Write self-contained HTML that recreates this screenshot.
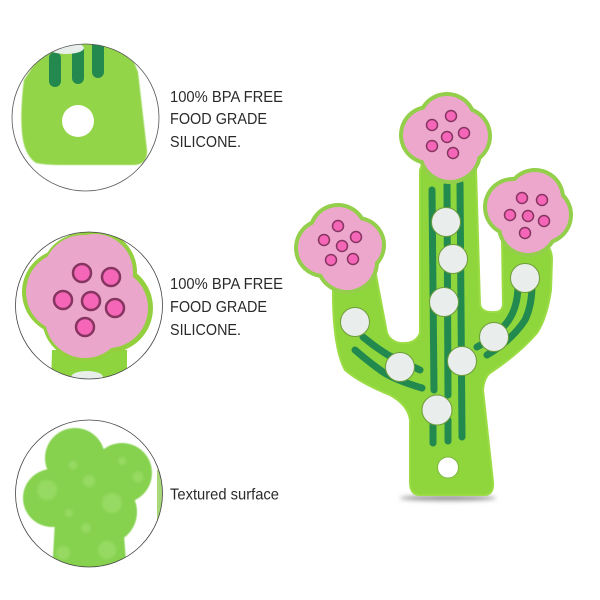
<!DOCTYPE html>
<html><head><meta charset="utf-8"><style>
html,body{margin:0;padding:0;background:#fff;width:600px;height:600px;overflow:hidden}
svg{display:block}
text{font-family:"Liberation Sans",sans-serif;font-size:16px;fill:#2a2a2a}
</style></head><body>
<svg width="600" height="600" viewBox="0 0 600 600" xmlns="http://www.w3.org/2000/svg">
<defs>
<clipPath id="c1"><circle cx="85.5" cy="117.5" r="73.5"/></clipPath>
<clipPath id="c2"><circle cx="89" cy="305.5" r="73.5"/></clipPath>
<clipPath id="c3"><circle cx="89" cy="493.5" r="73.5"/></clipPath>
<filter id="b1" x="-30%" y="-200%" width="160%" height="500%"><feGaussianBlur stdDeviation="2.5"/></filter>
<filter id="b2" x="-30%" y="-30%" width="160%" height="160%"><feGaussianBlur stdDeviation="1.2"/></filter>
<filter id="b3" x="-10%" y="-10%" width="120%" height="120%"><feGaussianBlur stdDeviation="0.6"/></filter>
</defs>

<!-- inset 1 -->
<g clip-path="url(#c1)">
<path d="M50 40 L24 80 Q20 110 22 133 Q24 155 36 163 Q45 165 60 165 L133 165 Q148 165 147 150 L138 72 L125 40 Z" fill="#93d54a" filter="url(#b3)"/>
<g stroke="#23894f" stroke-width="12" stroke-linecap="round" fill="none">
<path d="M55 58V81"/><path d="M78 50V78"/><path d="M98 40V72"/>
</g>
<ellipse cx="66" cy="48" rx="18" ry="6" fill="#e8eeea"/>
<circle cx="78" cy="121" r="16" fill="#fff"/>
</g>
<circle cx="85.5" cy="117.5" r="73.5" fill="none" stroke="#555" stroke-width="0.8"/>

<!-- inset 2 -->
<g clip-path="url(#c2)">
<path d="M52 350 L51 385 H127 L127 350 Z" fill="#8ed43f"/>
<ellipse cx="87" cy="377" rx="16" ry="6" fill="#e8eeea"/>
<g fill="#93cf3e">
<circle cx="83" cy="275" r="42"/><circle cx="95" cy="272" r="42"/><circle cx="65" cy="292" r="43"/>
<circle cx="108" cy="308" r="45"/><circle cx="85" cy="318" r="43"/>
</g>
<g fill="#eba6cb">
<circle cx="83" cy="275" r="40"/><circle cx="95" cy="272" r="38"/><circle cx="66" cy="292" r="40"/>
<circle cx="108" cy="308" r="40"/><circle cx="85" cy="318" r="40"/>
</g>
<g fill="#f566b8" stroke="#85355f" stroke-width="2.5">
<circle cx="82" cy="273" r="9"/><circle cx="111" cy="277" r="9"/><circle cx="63" cy="300" r="9"/>
<circle cx="91" cy="301" r="9"/><circle cx="115" cy="308" r="9"/><circle cx="85" cy="327" r="9"/>
</g>
</g>
<circle cx="89" cy="305.5" r="73.5" fill="none" stroke="#444" stroke-width="0.8"/>

<!-- inset 3 -->
<g clip-path="url(#c3)">
<rect x="157" y="470" width="6" height="60" fill="#a8d878"/>
<g fill="#86d24f" filter="url(#b3)">
<circle cx="75" cy="458" r="30"/><circle cx="122" cy="473" r="30"/><circle cx="52" cy="498" r="29"/>
<circle cx="105" cy="512" r="32"/><circle cx="90" cy="490" r="38"/><circle cx="78" cy="512" r="24"/>
<path d="M55 520 L52 575 H127 L124 535 Z"/>
</g>
<g fill="#9bdc68" opacity=".8" filter="url(#b2)">
<circle cx="47" cy="490" r="10"/><circle cx="112" cy="503" r="10"/><circle cx="89" cy="481" r="6"/>
<circle cx="73" cy="465" r="4.5"/><circle cx="122" cy="461" r="4"/><circle cx="138" cy="477" r="5.5"/>
<circle cx="69" cy="513" r="4"/><circle cx="86" cy="528" r="5"/><circle cx="107" cy="550" r="9"/><circle cx="63" cy="553" r="7"/>
</g>
</g>
<circle cx="89" cy="493.5" r="73.5" fill="none" stroke="#444" stroke-width="0.8"/>

<!-- labels -->
<text x="170" y="102" textLength="113" lengthAdjust="spacingAndGlyphs">100% BPA FREE</text>
<text x="170" y="124" textLength="97" lengthAdjust="spacingAndGlyphs">FOOD GRADE</text>
<text x="170" y="147" textLength="71" lengthAdjust="spacingAndGlyphs">SILICONE.</text>
<text x="170" y="289" textLength="113" lengthAdjust="spacingAndGlyphs">100% BPA FREE</text>
<text x="170" y="312" textLength="97" lengthAdjust="spacingAndGlyphs">FOOD GRADE</text>
<text x="170" y="335" textLength="71" lengthAdjust="spacingAndGlyphs">SILICONE.</text>
<text x="170" y="499.500" textLength="109" lengthAdjust="spacingAndGlyphs">Textured surface</text>

<!-- cactus -->
<ellipse cx="448" cy="498" rx="48" ry="2.500" fill="#8a8a8a" filter="url(#b1)"/>
<path d="M420 170 L420 333 Q416 343 405 343 Q392 344 387 333 L376 275 L333 275 L333 300 Q334 350 345 370 Q360 383 390 395 Q408 405 410 420 L410 482 Q410 495 420 495 L484 495 Q494 495 493 482 L483 390 Q484 378 490 373 Q520 353 537 333 Q547 318 551 290 L552 260 Q552 245 540 240 L502 240 L503 305 Q502 312 495 312 Q482 313 480 305 L476 170 Q470 150 448 150 Q426 150 420 170 Z" fill="#8fd63d" stroke="#9bdc45" stroke-width="2"/>
<circle cx="448" cy="467.500" r="10.500" fill="#fff" stroke="#7bb83a" stroke-width="1"/>

<g stroke="#22894f" stroke-width="7" stroke-linecap="round" fill="none">
<path d="M432 190 L434 390"/><path d="M447 185 L448 395"/><path d="M460 183 L462 437"/>
<path d="M433 420 V443"/><path d="M448 420 V441"/>
<path d="M363 337 Q375 347 388 355 L420 370"/>
<path d="M355 350 Q370 363 383 372 Q395 380 422 388"/>
<path d="M477 347 Q495 337 505 325 Q518 310 518 285"/>
<path d="M487 355 Q512 340 525 320 Q532 305 532 285"/>
</g>
<g fill="#e9edeb" stroke="#6e9c3b" stroke-width="1">
<circle cx="446" cy="222" r="14.500"/><circle cx="453" cy="259" r="14.500"/><circle cx="444" cy="302" r="14.500"/>
<circle cx="525" cy="278" r="14.500"/><circle cx="355" cy="322" r="14.500"/><circle cx="400" cy="367" r="14.500"/>
<circle cx="494" cy="337" r="14.500"/><circle cx="462" cy="361" r="14.500"/><circle cx="437" cy="410" r="15"/>
</g>

<!-- top flower -->
<g fill="#93cf4a">
<circle cx="447" cy="122" r="30"/><circle cx="462" cy="136" r="30"/><circle cx="429" cy="135" r="30"/><circle cx="450" cy="152" r="32"/>
</g>
<g fill="#eda7cc">
<circle cx="447" cy="122" r="26"/><circle cx="462" cy="136" r="26"/><circle cx="429" cy="135" r="26"/><circle cx="450" cy="152" r="28"/>
</g>
<!-- left flower -->
<g fill="#93cf4a">
<circle cx="338" cy="233" r="30"/><circle cx="324" cy="248" r="30"/><circle cx="357" cy="245" r="29"/><circle cx="347" cy="262" r="32"/>
</g>
<g fill="#eda7cc">
<circle cx="338" cy="233" r="26"/><circle cx="324" cy="248" r="26"/><circle cx="357" cy="245" r="25"/><circle cx="347" cy="262" r="28"/>
</g>
<!-- right flower -->
<g fill="#93cf4a">
<circle cx="535" cy="198" r="30"/><circle cx="513" cy="207" r="30"/><circle cx="543" cy="215" r="30"/><circle cx="528" cy="226" r="31"/>
</g>
<g fill="#eda7cc">
<circle cx="535" cy="198" r="26"/><circle cx="513" cy="207" r="26"/><circle cx="543" cy="215" r="26"/><circle cx="528" cy="226" r="27"/>
</g>
<g fill="#f566b8" stroke="#85355f" stroke-width="1.500">
<circle cx="432" cy="125" r="5.500"/><circle cx="451" cy="116" r="5.500"/><circle cx="464" cy="133" r="5.500"/><circle cx="447" cy="137" r="5.500"/><circle cx="432" cy="146" r="5.500"/><circle cx="453" cy="153" r="5.500"/>
<circle cx="338" cy="226" r="5.500"/><circle cx="356" cy="237" r="5.500"/><circle cx="324" cy="240" r="5.500"/><circle cx="342" cy="246" r="5.500"/><circle cx="331" cy="260" r="5.500"/><circle cx="353" cy="259" r="5.500"/>
<circle cx="522" cy="198" r="5.500"/><circle cx="542" cy="200" r="5.500"/><circle cx="510" cy="215" r="5.500"/><circle cx="528" cy="216" r="5.500"/><circle cx="544" cy="221" r="5.500"/><circle cx="525" cy="233" r="5.500"/>
</g>
</svg>
</body></html>
